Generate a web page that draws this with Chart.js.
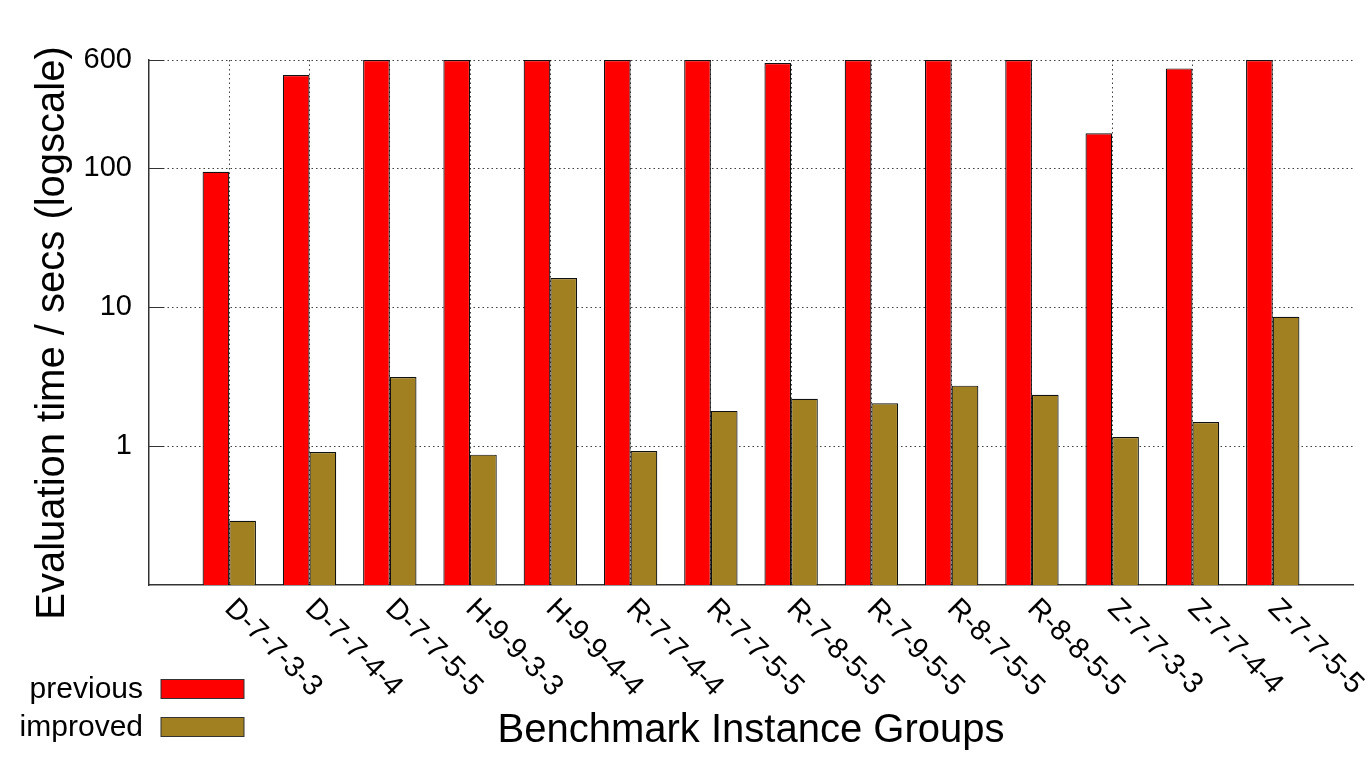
<!DOCTYPE html>
<html>
<head>
<meta charset="utf-8">
<title>Evaluation time per benchmark group</title>
<script src="https://cdn.jsdelivr.net/npm/chart.js@4.4.1/dist/chart.umd.min.js"></script>
<style>
  html, body { margin: 0; padding: 0; background: #fff; }
  #chart { display: block; }
</style>
</head>
<body>
<canvas id="chart" width="1369" height="763"></canvas>
<script>
// Benchmark instance groups (x axis)
const groups = ['D-7-7-3-3', 'D-7-7-4-4', 'D-7-7-5-5', 'H-9-9-3-3', 'H-9-9-4-4',
  'R-7-7-4-4', 'R-7-7-5-5', 'R-7-8-5-5', 'R-7-9-5-5', 'R-8-7-5-5', 'R-8-8-5-5',
  'Z-7-7-3-3', 'Z-7-7-4-4', 'Z-7-7-5-5'];

// Evaluation time in seconds
const previousTimes = [94, 467, 600, 600, 600, 600, 600, 571, 600, 600, 600, 178, 522, 600];
const improvedTimes = [0.29, 0.905, 3.14, 0.867, 16.2, 0.92, 1.79, 2.19, 2.03, 2.72, 2.34, 1.16, 1.49, 8.53];

// labelled y ticks
const yTicks = [1, 10, 100, 600];

const FONT = '"Liberation Sans", Arial, Helvetica, sans-serif';

// gnuplot style extras: inward ticks, rotated labels, y title, legend
const extrasPlugin = {
  id: 'extras',
  afterDraw(chart) {
    const ctx = chart.ctx;
    const xs = chart.scales.x;
    const ys = chart.scales.y;
    ctx.save();

    ctx.strokeStyle = '#333';
    ctx.lineWidth = 1;
    yTicks.forEach(v => {
      const py = Math.round(ys.getPixelForValue(v)) + 0.5;
      ctx.beginPath();
      ctx.moveTo(xs.left, py);
      ctx.lineTo(xs.left + 15, py);
      ctx.stroke();
    });

    ctx.fillStyle = '#000';
    ctx.font = '29px ' + FONT;
    ctx.textAlign = 'left';
    ctx.textBaseline = 'middle';
    groups.forEach((g, i) => {
      ctx.save();
      ctx.translate(xs.getPixelForValue(i), ys.bottom + 19);
      ctx.rotate(Math.PI / 4);
      ctx.fillText(g, 0, 0);
      ctx.restore();
    });

    ctx.save();
    ctx.font = '40px ' + FONT;
    ctx.textAlign = 'center';
    ctx.translate(53, 333);
    ctx.rotate(-Math.PI / 2);
    ctx.fillText('Evaluation time / secs (logscale)', 0, 0);
    ctx.restore();

    ctx.font = '30px ' + FONT;
    ctx.textAlign = 'right';
    chart.data.datasets.forEach((ds, i) => {
      const top = 679.5 + i * 38;
      ctx.fillStyle = ds.backgroundColor;
      ctx.fillRect(161, top, 83, 19);
      ctx.strokeStyle = '#333';
      ctx.strokeRect(161, top, 83, 19);
      ctx.fillStyle = '#000';
      ctx.fillText(ds.label, 143, top + 10);
    });

    ctx.restore();
  }
};

const ctx = document.getElementById('chart').getContext('2d');
new Chart(ctx, {
  type: 'bar',
  data: {
    datasets: [{
      label: 'previous',
      data: previousTimes.map((v, i) => ({ x: i, y: v })),
      backgroundColor: '#ff0000',
      borderColor: '#111',
      borderWidth: 1.2,
      categoryPercentage: 0.665,
      barPercentage: 1.0
    }, {
      label: 'improved',
      data: improvedTimes.map((v, i) => ({ x: i, y: v })),
      backgroundColor: '#a08020',
      borderColor: '#111',
      borderWidth: 1.2,
      categoryPercentage: 0.665,
      barPercentage: 1.0
    }]
  },
  options: {
    responsive: false,
    animation: false,
    events: [],
    layout: { padding: { top: 60, right: 16, left: 0, bottom: 0 } },
    plugins: {
      legend: { display: false },
      tooltip: { enabled: false },
      title: { display: false }
    },
    scales: {
      x: {
        type: 'linear',
        min: -1,
        max: 14,
        offset: false,
        afterFit: s => { s.height = 178; },
        ticks: { display: false, stepSize: 1 },
        grid: {
          offset: false,
          drawTicks: false,
          color: c => (c.tick && c.tick.value >= 0 && c.tick.value <= 13) ? 'rgba(0,0,0,0.75)' : 'rgba(0,0,0,0)',
          lineWidth: 1
        },
        border: { display: true, color: '#333', width: 1.5, dash: [1.5, 3] },
        title: {
          display: true,
          text: 'Benchmark Instance Groups',
          color: '#000',
          font: { family: FONT, size: 40 },
          padding: { top: 0, bottom: 8 }
        }
      },
      y: {
        type: 'logarithmic',
        min: 0.1,
        max: 600,
        afterFit: s => { s.width = 149; },
        afterBuildTicks: s => { s.ticks = yTicks.map(v => ({ value: v })); },
        ticks: {
          color: '#000',
          font: { family: FONT, size: 29 },
          padding: 17,
          callback: v => String(v)
        },
        grid: {
          drawTicks: false,
          color: 'rgba(0,0,0,0.75)',
          lineWidth: 1
        },
        border: { display: true, color: '#333', width: 1.5, dash: [1.5, 3] }
      }
    }
  },
  plugins: [extrasPlugin]
});
</script>
</body>
</html>
